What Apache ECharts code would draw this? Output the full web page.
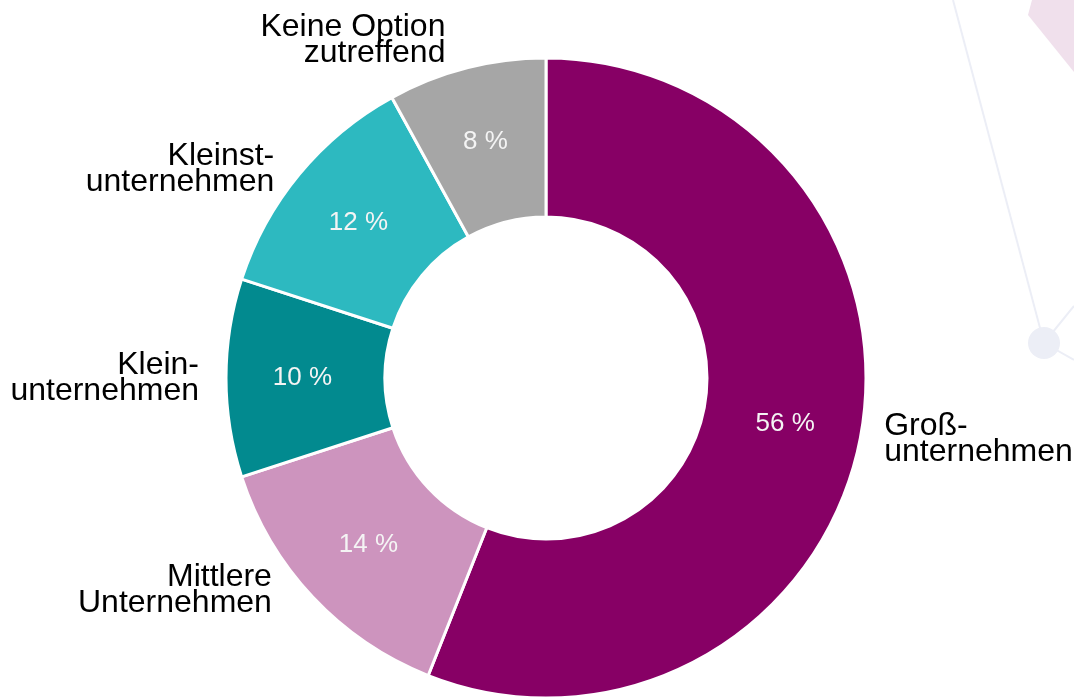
<!DOCTYPE html>
<html>
<head>
<meta charset="utf-8">
<script src="https://cdn.jsdelivr.net/npm/echarts@6/dist/echarts.min.js"></script>
<style>
  html, body { margin: 0; padding: 0; background: #ffffff; }
  #myChart { width: 1074px; height: 698px; }
</style>
</head>
<body>
<div id="myChart"></div>
<script>
// Daten
const categories = [
  "Groß-\nunternehmen",
  "Mittlere\nUnternehmen",
  "Klein-\nunternehmen",
  "Kleinst-\nunternehmen",
  "Keine Option\nzutreffend"
];
const values = [56, 14, 10, 12, 8];
const colors = ["#870065", "#cd94be", "#028a8f", "#2db9c0", "#a6a6a6"];

let myChart = echarts.init(document.getElementById("myChart"));

let option = {
  backgroundColor: "#ffffff",
  animation: false,
  // dezente Hintergrund-Deko rechts
  graphic: [
    {
      type: "polygon",
      z: -10,
      shape: { points: [[1032, 0], [1074, 0], [1074, 72], [1028, 15]] },
      style: { fill: "#f0e0ec" }
    },
    {
      type: "line",
      z: -10,
      shape: { x1: 953, y1: 0, x2: 1044, y2: 343 },
      style: { stroke: "#eceef6", lineWidth: 2 }
    },
    {
      type: "line",
      z: -10,
      shape: { x1: 1044, y1: 343, x2: 1074, y2: 306 },
      style: { stroke: "#eceef6", lineWidth: 2 }
    },
    {
      type: "line",
      z: -10,
      shape: { x1: 1044, y1: 343, x2: 1074, y2: 360 },
      style: { stroke: "#eceef6", lineWidth: 2 }
    },
    {
      type: "circle",
      z: -10,
      shape: { cx: 1044, cy: 343, r: 16 },
      style: { fill: "#eceef6" }
    }
  ],
  series: [
    {
      type: "pie",
      center: [546, 378],
      radius: [161, 320],
      startAngle: 90,
      clockwise: true,
      avoidLabelOverlap: false,
      itemStyle: { borderColor: "#ffffff", borderWidth: 3 },
      label: {
        show: true,
        position: "outside",
        formatter: "{b}",
        color: "#000000",
        fontFamily: "Liberation Sans, Arial, sans-serif",
        fontSize: 32,
        lineHeight: 26
      },
      labelLine: { show: false, length: 8, length2: 14 },
      // kleine Korrekturen der Beschriftungslage wie im Original
      labelLayout: function (params) {
        if (params.dataIndex === 0) return { dx: -3 };
        if (params.dataIndex === 1) return { dx: -16, dy: -12 };
        if (params.dataIndex === 4) return { dy: -20 };
        return {};
      },
      data: categories.map((name, i) => ({
        name: name,
        value: values[i],
        itemStyle: { color: colors[i] }
      }))
    },
    {
      type: "pie",
      center: [546, 378],
      radius: [161, 320],
      startAngle: 90,
      clockwise: true,
      silent: true,
      itemStyle: { color: "transparent", borderWidth: 0 },
      label: {
        show: true,
        position: "inside",
        formatter: "{c} %",
        color: "#f4f4f4",
        fontFamily: "Liberation Sans, Arial, sans-serif",
        fontSize: 26
      },
      labelLine: { show: false },
      data: categories.map((name, i) => ({ name: name, value: values[i] }))
    }
  ]
};

myChart.setOption(option);
</script>
</body>
</html>
